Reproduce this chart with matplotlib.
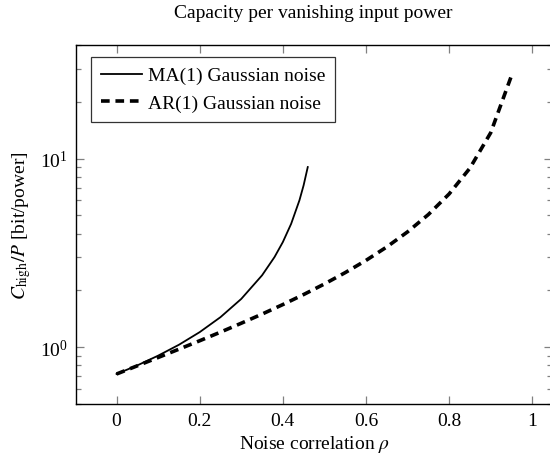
import matplotlib
matplotlib.use("Agg")
import matplotlib.pyplot as plt
from matplotlib.ticker import LogLocator, NullFormatter

plt.rcParams['font.family'] = ['Liberation Serif', 'DejaVu Serif']
plt.rcParams['mathtext.fontset'] = 'stix'

# values
rho_ma = [0.0, 0.05, 0.10, 0.15, 0.20, 0.25, 0.30, 0.35, 0.38, 0.40, 0.42, 0.44, 0.45, 0.46]
cap_ma = [0.721, 0.801, 0.902, 1.030, 1.202, 1.443, 1.803, 2.404, 3.005, 3.607, 4.508,
          6.011, 7.213, 9.016]

rho_ar = [0.0, 0.05, 0.10, 0.15, 0.20, 0.25, 0.30, 0.35, 0.40, 0.45, 0.50,
          0.55, 0.60, 0.65, 0.70, 0.75, 0.80, 0.85, 0.90, 0.95]
cap_ar = [0.721, 0.797, 0.882, 0.976, 1.082, 1.202, 1.340, 1.498, 1.683, 1.902, 2.164,
          2.485, 2.885, 3.400, 4.087, 5.049, 6.492, 8.896, 13.70, 27.5]

xticks = [0, 0.2, 0.4, 0.6, 0.8, 1]
xticklabels = ['0', '0.2', '0.4', '0.6', '0.8', '1']

fs = 14

fig = plt.figure(figsize=(5.5, 4.6), dpi=100)
ax = fig.add_axes([76 / 550, 55 / 460, 476 / 550, 359 / 460])

ax.plot(rho_ma, cap_ma, color='black', lw=1.3, label='MA(1) Gaussian noise')
ax.plot(rho_ar, cap_ar, color='black', lw=2.6, dashes=(2.4, 1.6),
        label='AR(1) Gaussian noise')

ax.set_yscale('log')
ax.set_xlim(-0.0975, 1.0475)
ax.set_ylim(0.5, 40)
ax.set_xticks(xticks)
ax.set_xticklabels(xticklabels)
ax.yaxis.set_major_locator(LogLocator(base=10, numticks=10))
ax.yaxis.set_minor_locator(LogLocator(base=10, subs=range(2, 10), numticks=20))
ax.yaxis.set_minor_formatter(NullFormatter())

ax.tick_params(which='both', direction='in', top=True, right=True,
               color='0.5', width=0.9, labelsize=fs, pad=6)
ax.tick_params(which='major', length=6)
ax.tick_params(which='minor', length=3.5)
for s in ax.spines.values():
    s.set_linewidth(1.0)

ax.set_xlabel(r'Noise correlation $\rho$', fontsize=fs, labelpad=3)
ax.set_ylabel(r'$C_{\mathrm{high}}/P$ [bit/power]', fontsize=fs, labelpad=5)
ax.set_title('Capacity per vanishing input power', fontsize=fs, pad=20,
             x=(313 - 76) / 476)

leg = ax.legend(loc='upper left', bbox_to_anchor=(15 / 476, 347 / 359),
                borderaxespad=0, fancybox=False, edgecolor='black',
                fontsize=fs, handlelength=2.1, handletextpad=0.35,
                labelspacing=0.5, borderpad=0.5)
leg.get_frame().set_linewidth(0.9)

fig.savefig('out.png', dpi=100)
